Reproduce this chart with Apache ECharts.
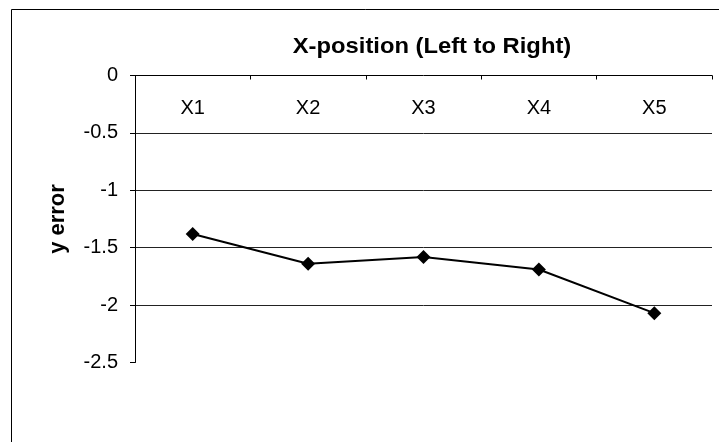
<!DOCTYPE html>
<html>
<head>
<meta charset="utf-8">
<script src="https://cdn.jsdelivr.net/npm/echarts@6/dist/echarts.min.js"></script>
<style>
  html, body { margin: 0; padding: 0; background: #fff; }
  #chart { width: 719px; height: 442px; }
</style>
</head>
<body>
<div id="chart"></div>
<script>
// Measurement positions along the plate, left to right
const categories = ['X1', 'X2', 'X3', 'X4', 'X5'];
// Vertical error measured at each position
const yError = [-1.38, -1.64, -1.58, -1.69, -2.07];
const chartTitle = 'X-position (Left to Right)';
const yName = 'y error';

const FONT = "'Liberation Sans', Arial, sans-serif";
const chart = echarts.init(document.getElementById('chart'), null, { renderer: 'canvas' });

chart.setOption({
  backgroundColor: '#fff',
  animation: false,
  textStyle: { fontFamily: FONT },
  graphic: [
    {
      type: 'rect',
      shape: { x: 11.5, y: 9.5, width: 740, height: 460 },
      style: { fill: 'none', stroke: '#000', lineWidth: 1 },
      silent: true
    },
    {
      type: 'text',
      x: 432,
      y: 47,
      scaleX: 1.08,
      style: {
        text: chartTitle,
        font: 'bold 22px ' + FONT,
        fill: '#000',
        textAlign: 'center',
        textVerticalAlign: 'middle'
      },
      silent: true
    }
  ],
  grid: { left: 135, right: 7, top: 75.5, bottom: 79.5, containLabel: false },
  xAxis: {
    type: 'category',
    position: 'top',
    data: categories,
    boundaryGap: true,
    axisLine: { show: true, onZero: false, lineStyle: { color: '#000', width: 1 } },
    axisTick: { show: true, inside: true, length: 4, lineStyle: { color: '#000' } },
    axisLabel: { inside: true, margin: 23, color: '#000', fontSize: 20, fontFamily: FONT },
    splitLine: { show: false }
  },
  yAxis: {
    type: 'value',
    min: -2.5,
    max: 0,
    interval: 0.5,
    name: yName,
    nameLocation: 'middle',
    nameRotate: 90,
    nameGap: 66,
    nameTextStyle: { color: '#000', fontSize: 22, fontWeight: 'bold', fontFamily: FONT },
    axisLine: { show: true, lineStyle: { color: '#000', width: 1 } },
    axisTick: { show: true, inside: false, length: 5, lineStyle: { color: '#000' } },
    axisLabel: { margin: 17, color: '#000', fontSize: 20, fontFamily: FONT },
    splitLine: {
      show: true,
      showMinLine: false,
      showMaxLine: false,
      lineStyle: { color: '#222', width: 1 }
    }
  },
  series: [
    {
      type: 'line',
      data: yError,
      symbol: 'diamond',
      symbolSize: 14,
      lineStyle: { color: '#000', width: 2 },
      itemStyle: { color: '#000' },
      emphasis: { disabled: true }
    }
  ]
});
</script>
</body>
</html>
